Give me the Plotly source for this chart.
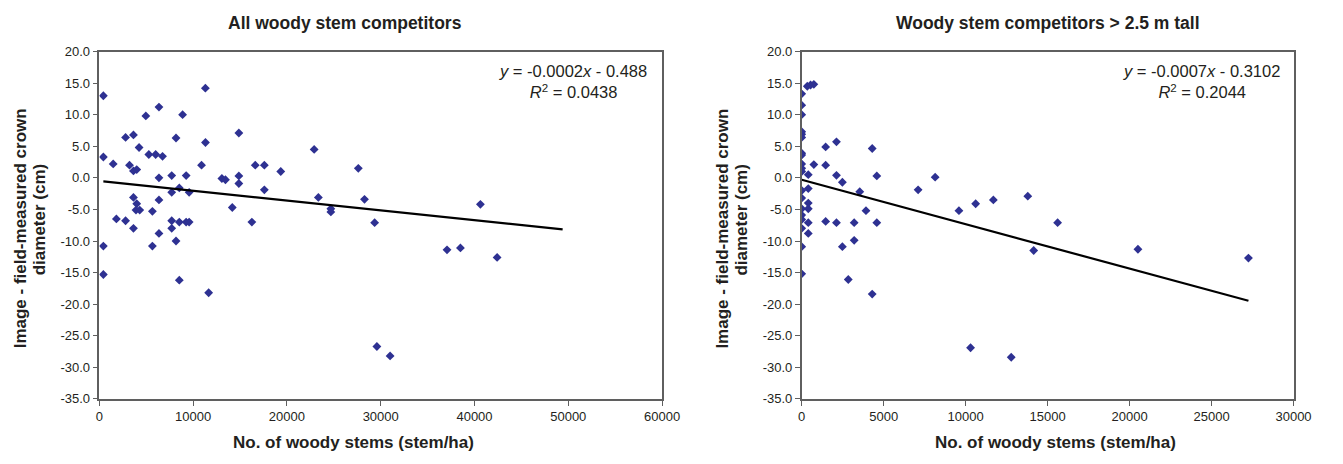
import plotly.graph_objects as go

# ---------------- data ----------------
left_title = "All woody stem competitors"
right_title = "Woody stem competitors > 2.5 m tall"
x_title = "No. of woody stems (stem/ha)"
y_title_line1 = "Image - field-measured crown"
y_title_line2 = "diameter (cm)"

left_x = [420, 11300, 6350, 4950, 8870, 2790, 3630, 8170, 11310, 14870,
          4230, 420, 1470, 5270, 6000, 6730, 3210, 3630, 3980, 10890,
          16620, 17590, 19340, 6350, 7710, 9250, 13060, 13440, 14870, 14870,
          8520, 7710, 9570, 17590, 3630, 6350, 3980, 3900, 4300, 5650,
          14170, 1810, 2790, 7710, 8520, 9250, 9570, 16260, 3630, 7710,
          6350, 8170, 420, 5650, 420, 8520, 11650, 22900, 27610, 23350,
          24680, 24680, 28270, 29350, 40630, 37070, 38500, 42410, 29590, 31000]
left_y = [13.0, 14.2, 11.2, 9.8, 10.0, 6.4, 6.8, 6.3, 5.6, 7.1,
          4.8, 3.3, 2.2, 3.7, 3.7, 3.4, 2.0, 1.1, 1.3, 2.0,
          2.0, 2.0, 1.0, 0.0, 0.35, 0.35, -0.1, -0.3, 0.3, -0.9,
          -1.6, -2.3, -2.3, -1.9, -3.1, -3.5, -4.1, -5.1, -5.1, -5.3,
          -4.7, -6.5, -6.8, -6.8, -7.0, -7.0, -7.0, -7.0, -8.0, -8.0,
          -8.8, -10.0, -10.8, -10.8, -15.3, -16.2, -18.2, 4.5, 1.5, -3.1,
          -4.9, -5.4, -3.4, -7.1, -4.2, -11.4, -11.1, -12.6, -26.7, -28.2]

right_x = [340, 540, 740, 0, 0, 0, 0, 0, 0, 1460,
           2120, 4300, 0, 0, 0, 740, 1460, 0, 0, 400,
           2120, 4580, 2480, 400, 0, 3540, 7100, 0, 400, 3920,
           0, 400, 0, 0, 400, 1460, 2120, 3200, 4580, 0,
           400, 0, 2480, 3200, 0, 2840, 4300, 8140, 9590, 10610,
           11690, 13790, 15610, 14150, 10300, 12780, 20510, 27250]
right_y = [14.5, 14.7, 14.8, 13.3, 11.5, 10.0, 7.3, 6.9, 6.4, 4.9,
           5.7, 4.65, 3.9, 3.6, 2.2, 2.1, 2.0, 1.5, 1.0, 0.5,
           0.4, 0.3, -0.7, -1.7, -2.0, -2.2, -1.9, -3.2, -4.0, -5.2,
           -4.9, -4.9, -5.9, -6.6, -7.1, -6.9, -7.1, -7.1, -7.1, -8.0,
           -8.8, -10.9, -10.9, -9.9, -15.2, -16.1, -18.4, 0.1, -5.2, -4.1,
           -3.5, -2.9, -7.1, -11.5, -26.9, -28.4, -11.3, -12.7]

# trend lines (slope, intercept, x extent)
left_slope, left_intercept = -0.000155, -0.488
left_trend_x = [420, 49400]
right_slope, right_intercept = -0.000703, -0.3102
right_trend_x = [0, 27250]

left_eq = "<i>y</i> = -0.0002<i>x</i> - 0.488<br><i>R</i><sup>2</sup> = 0.0438"
right_eq = "<i>y</i> = -0.0007<i>x</i> - 0.3102<br><i>R</i><sup>2</sup> = 0.2044"

y_tick_vals = [20, 15, 10, 5, 0, -5, -10, -15, -20, -25, -30, -35]
y_tick_text = ["20.0", "15.0", "10.0", "5.0", "0.0", "-5.0", "-10.0", "-15.0",
               "-20.0", "-25.0", "-30.0", "-35.0"]
left_x_ticks = [0, 10000, 20000, 30000, 40000, 50000, 60000]
right_x_ticks = [0, 5000, 10000, 15000, 20000, 25000, 30000]

# ---------------- figure ----------------
W, H = 1343, 464
marker_color = "#2E3192"
frame_color = "#5f5f5f"
FONT = "Liberation Sans, Arial, sans-serif"
TXT = "#231f20"

fig = go.Figure()
fig.add_trace(go.Scatter(x=left_x, y=left_y, mode="markers",
                         marker=dict(symbol="diamond", size=6.8, color=marker_color, line=dict(width=0)),
                         xaxis="x", yaxis="y", showlegend=False))
fig.add_trace(go.Scatter(x=left_trend_x, y=[left_slope * v + left_intercept for v in left_trend_x],
                         mode="lines", line=dict(color="black", width=2.2),
                         xaxis="x", yaxis="y", showlegend=False))
fig.add_trace(go.Scatter(x=right_x, y=right_y, mode="markers",
                         marker=dict(symbol="diamond", size=6.8, color=marker_color, line=dict(width=0)),
                         xaxis="x2", yaxis="y2", showlegend=False))
fig.add_trace(go.Scatter(x=right_trend_x, y=[right_slope * v + right_intercept for v in right_trend_x],
                         mode="lines", line=dict(color="black", width=2.2),
                         xaxis="x2", yaxis="y2", showlegend=False))

def px(xp):
    return xp / W

def py(yp):
    return 1 - yp / H

L = (97, 669)
R = (811, 1311)
T, B = 46, 405
OFF = R[0] - L[0]

axis_common = dict(showline=True, linecolor=frame_color, linewidth=1.5, mirror=True,
                   showgrid=False, zeroline=False, ticks="outside", ticklen=5,
                   tickcolor=frame_color, tickwidth=1,
                   tickfont=dict(family=FONT, size=13, color=TXT))

yaxis_common = dict(axis_common, range=[-35, 20], tickvals=y_tick_vals, ticktext=y_tick_text,
                    domain=[py(B), py(T)])

fig.update_layout(
    width=W, height=H,
    margin=dict(l=0, r=0, t=0, b=0),
    plot_bgcolor="white", paper_bgcolor="white",
    font=dict(family=FONT, color=TXT),
    xaxis=dict(axis_common, range=[0, 60000], tickvals=left_x_ticks, tickformat="d",
               domain=[px(L[0]), px(L[1])], anchor="y"),
    yaxis=dict(yaxis_common, anchor="x"),
    xaxis2=dict(axis_common, range=[0, 30000], tickvals=right_x_ticks, tickformat="d",
                domain=[px(R[0]), px(R[1])], anchor="y2"),
    yaxis2=dict(yaxis_common, anchor="x2"),
)

ann = []
for dx, t in [(0, left_title), (OFF, right_title)]:
    ann.append(dict(text="<b>%s</b>" % t, x=px(347 + dx), y=py(17), xref="paper", yref="paper",
                    showarrow=False, font=dict(size=17.5, family=FONT, color=TXT),
                    xanchor="center", yanchor="middle"))
    ann.append(dict(text="<b>%s</b>" % x_title, x=px(355 + dx), y=py(450), xref="paper", yref="paper",
                    showarrow=False, font=dict(size=17, family=FONT, color=TXT),
                    xanchor="center", yanchor="middle"))
    ann.append(dict(text="<b>%s</b>" % y_title_line1, x=px(17 + dx), y=py(229), xref="paper", yref="paper",
                    showarrow=False, textangle=-90, font=dict(size=17, family=FONT, color=TXT),
                    xanchor="center", yanchor="middle"))
    ann.append(dict(text="<b>%s</b>" % y_title_line2, x=px(36 + dx), y=py(220), xref="paper", yref="paper",
                    showarrow=False, textangle=-90, font=dict(size=17, family=FONT, color=TXT),
                    xanchor="center", yanchor="middle"))
for xc, eq in [(578, left_eq), (1217.5, right_eq)]:
    ann.append(dict(text=eq, x=px(xc), y=py(77.5), xref="paper", yref="paper",
                    showarrow=False, align="center", font=dict(size=16.5, family=FONT, color=TXT),
                    xanchor="center", yanchor="middle"))

fig.update_layout(annotations=ann)

post = (
    "var de=document.documentElement, bd=document.body;"
    "de.style.margin='0';de.style.padding='0';de.style.overflow='hidden';"
    "bd.style.margin='0';bd.style.padding='0';bd.style.overflow='hidden';"
    "var gd=document.getElementById('{plot_id}');"
    "var w=window.innerWidth||%d, h=window.innerHeight||%d;"
    "if(w!==%d||h!==%d){Plotly.relayout(gd,{width:w,height:h});}" % (W, H, W, H)
)
fig.write_html("out.html", config={"displayModeBar": False}, post_script=post)
